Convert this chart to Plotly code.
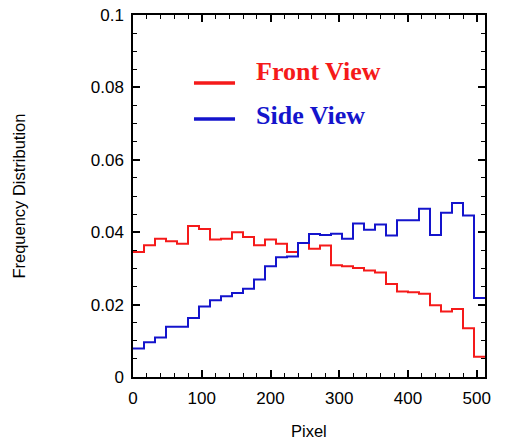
import plotly.graph_objects as go

bin_width = 16
bin_starts = [i * bin_width for i in range(32)]

front_view = [0.0345, 0.0364, 0.0382, 0.0375, 0.0368, 0.0417, 0.0409, 0.0380,
              0.0382, 0.0400, 0.0387, 0.0364, 0.0380, 0.0368, 0.0345, 0.0370,
              0.0354, 0.0363, 0.0309, 0.0306, 0.0301, 0.0294, 0.0289, 0.0257,
              0.0236, 0.0234, 0.0230, 0.0198, 0.0181, 0.0188, 0.0135, 0.0056]

side_view = [0.0079, 0.0096, 0.0109, 0.0139, 0.0139, 0.0163, 0.0195, 0.0212,
             0.0223, 0.0232, 0.0244, 0.0269, 0.0306, 0.0331, 0.0333, 0.0370,
             0.0395, 0.0392, 0.0396, 0.0382, 0.0424, 0.0407, 0.0421, 0.0391,
             0.0433, 0.0433, 0.0465, 0.0392, 0.0454, 0.0481, 0.0446, 0.0218]

x_ticks = [0, 100, 200, 300, 400, 500]
y_ticks = [0, 0.02, 0.04, 0.06, 0.08, 0.1]
y_tick_labels = ["0", "0.02", "0.04", "0.06", "0.08", "0.1"]

RED = "#f51a1a"
BLUE = "#1414cc"
SANS = "Liberation Sans, Arial, sans-serif"

xs = bin_starts + [bin_starts[-1] + bin_width]

fig = go.Figure()
fig.add_trace(go.Scatter(x=xs, y=front_view + [front_view[-1]], mode="lines",
                         line=dict(shape="hv", color=RED, width=2),
                         name="Front View", showlegend=False))
fig.add_trace(go.Scatter(x=xs, y=side_view + [side_view[-1]], mode="lines",
                         line=dict(shape="hv", color=BLUE, width=2),
                         name="Side View", showlegend=False))

# manual legend
legend_items = [("Front View", RED, 0.0812, 0.0843), ("Side View", BLUE, 0.0713, 0.0722)]
for label, col, ly, ty in legend_items:
    fig.add_shape(type="line", xref="x", yref="y", x0=88.7, x1=148.4, y0=ly, y1=ly,
                  line=dict(color=col, width=3.5))
    fig.add_annotation(x=176.5, y=ty, xref="x", yref="y", text="<b>%s</b>" % label,
                       showarrow=False, xanchor="left", yanchor="middle",
                       font=dict(family="Liberation Serif, Times New Roman, serif",
                                 size=26, color=col))

# axis titles
fig.add_annotation(x=0.5, y=-0.149, xref="paper", yref="paper", text="Pixel",
                   showarrow=False, xanchor="center", yanchor="middle",
                   font=dict(family=SANS, size=16.5, color="black"))
fig.add_annotation(x=-0.325, y=0.5, xref="paper", yref="paper", text="Frequency Distribution",
                   showarrow=False, xanchor="center", yanchor="middle", textangle=-90,
                   font=dict(family=SANS, size=16.5, color="black"))

axis_common = dict(showline=True, linecolor="black", linewidth=1.5, mirror="allticks",
                   ticks="inside", ticklen=7, tickwidth=1.5, tickcolor="black",
                   showgrid=False, zeroline=False, automargin=False,
                   tickfont=dict(family=SANS, size=17, color="black"))

fig.update_xaxes(range=[0, 512], tickvals=x_ticks, ticklabelstandoff=5,
                 minor=dict(dtick=20, tick0=0, ticks="inside", ticklen=4, tickwidth=1.2, tickcolor="black"),
                 **axis_common)
fig.update_yaxes(range=[0, 0.1], tickvals=y_ticks, ticktext=y_tick_labels, ticklabelstandoff=4,
                 minor=dict(dtick=0.005, tick0=0, ticks="inside", ticklen=4, tickwidth=1.2, tickcolor="black"),
                 **axis_common)

fig.update_layout(width=507, height=443, margin=dict(l=133, r=22, t=15, b=66),
                  plot_bgcolor="white", paper_bgcolor="white")

fig.write_html("out.html")
